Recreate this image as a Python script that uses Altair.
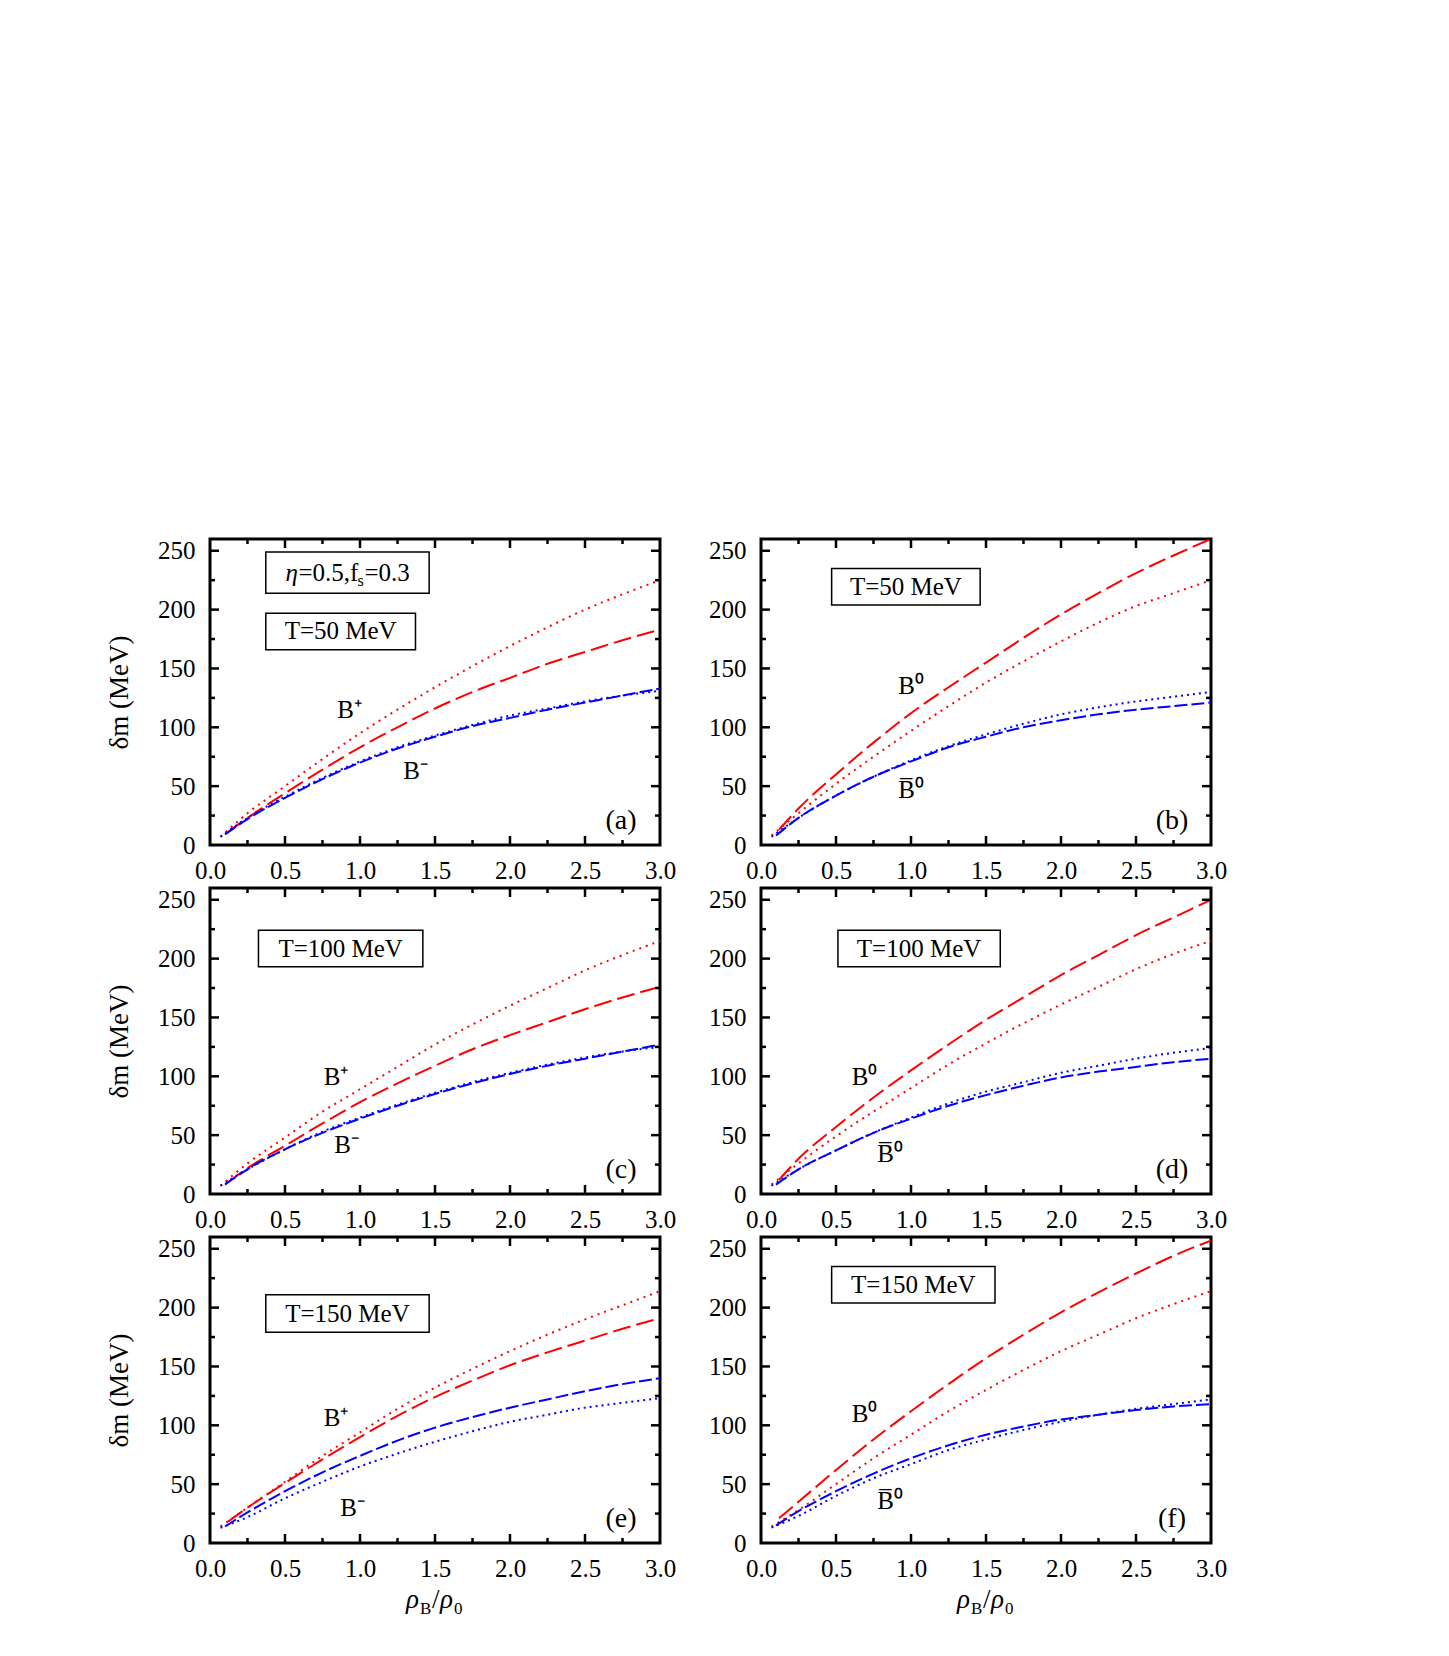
import altair as alt
import pandas as pd

# ---------------- data ----------------
X_DOT = [0.07, 0.25, 0.5, 0.75, 1.0, 1.25, 1.5, 1.75, 2.0, 2.25, 2.5, 2.75, 3.0]
X_RED_DASH = [0.12, 0.25, 0.5, 0.75, 1.0, 1.25, 1.5, 1.75, 2.0, 2.25, 2.5, 2.75, 3.0]
X_BLUE_DASH = [0.10, 0.25, 0.5, 0.75, 1.0, 1.25, 1.5, 1.75, 2.0, 2.25, 2.5, 2.75, 3.0]

# (a) T=50 MeV, B+ (red) / B- (blue)
A_RED_DOT = [7, 27, 50, 73, 95, 115, 134, 152, 169, 185, 200, 213, 225]
A_RED_DASH = [11, 23, 44, 64, 83, 100, 116, 130, 142, 154, 164, 174, 183]
A_BLUE_DASH = [9, 22, 40, 56, 70, 82, 92, 101, 108, 115, 121, 127, 133]
A_BLUE_DOT = [7, 23, 41, 57, 71, 83, 93, 102, 110, 116, 122, 127, 131]
# (b) T=50 MeV, B0 (red) / B0bar (blue)
B_RED_DOT = [8, 27, 52, 75, 97, 118, 138, 156, 173, 189, 203, 214, 225]
B_RED_DASH = [13, 31, 60, 87, 112, 134, 155, 176, 196, 214, 231, 246, 260]
B_BLUE_DASH = [8, 23, 42, 58, 71, 83, 92, 100, 106, 111, 115, 118, 121]
B_BLUE_DOT = [7, 23, 42, 58, 72, 84, 94, 103, 111, 117, 122, 126, 130]
# (c) T=100 MeV
C_RED_DOT = [7, 26, 48, 70, 89, 108, 127, 144, 160, 175, 190, 203, 215]
C_RED_DASH = [10, 22, 41, 60, 78, 94, 109, 123, 135, 146, 157, 167, 176]
C_BLUE_DASH = [8, 21, 38, 52, 64, 75, 85, 94, 102, 109, 115, 121, 127]
C_BLUE_DOT = [7, 21, 38, 53, 65, 76, 86, 95, 103, 110, 116, 121, 125]
# (d) T=100 MeV
D_RED_DOT = [8, 26, 49, 70, 90, 110, 128, 145, 161, 176, 191, 204, 215]
D_RED_DASH = [12, 30, 57, 82, 105, 127, 148, 167, 186, 203, 220, 235, 250]
D_BLUE_DASH = [8, 21, 37, 52, 64, 75, 84, 92, 99, 104, 108, 112, 115]
D_BLUE_DOT = [7, 21, 37, 52, 65, 77, 87, 95, 103, 109, 115, 120, 124]
# (e) T=150 MeV
E_RED_DOT = [14, 30, 52, 74, 94, 114, 132, 148, 163, 177, 190, 202, 214]
E_RED_DASH = [18, 30, 51, 71, 90, 108, 124, 138, 151, 162, 172, 182, 191]
E_BLUE_DASH = [14, 26, 44, 60, 74, 87, 98, 107, 115, 122, 129, 135, 140]
E_BLUE_DOT = [13, 22, 38, 52, 65, 76, 86, 95, 103, 109, 115, 119, 123]
# (f) T=150 MeV
F_RED_DOT = [14, 28, 50, 72, 92, 112, 130, 147, 163, 177, 191, 203, 214]
F_RED_DASH = [21, 35, 62, 88, 112, 135, 157, 177, 196, 213, 229, 244, 257]
F_BLUE_DASH = [15, 27, 44, 59, 72, 83, 92, 99, 105, 109, 113, 116, 118]
F_BLUE_DOT = [13, 23, 40, 55, 67, 79, 88, 96, 103, 109, 114, 118, 122]

PANEL_KEYS = ["a", "b", "c", "d", "e", "f"]
PANEL_SERIES = {
    "a": (A_RED_DOT, A_RED_DASH, A_BLUE_DASH, A_BLUE_DOT),
    "b": (B_RED_DOT, B_RED_DASH, B_BLUE_DASH, B_BLUE_DOT),
    "c": (C_RED_DOT, C_RED_DASH, C_BLUE_DASH, C_BLUE_DOT),
    "d": (D_RED_DOT, D_RED_DASH, D_BLUE_DASH, D_BLUE_DOT),
    "e": (E_RED_DOT, E_RED_DASH, E_BLUE_DASH, E_BLUE_DOT),
    "f": (F_RED_DOT, F_RED_DASH, F_BLUE_DASH, F_BLUE_DOT),
}
SERIES_NAMES = ["red_dot", "red_dash", "blue_dash", "blue_dot"]
SERIES_X = {"red_dot": X_DOT, "red_dash": X_RED_DASH, "blue_dash": X_BLUE_DASH, "blue_dot": X_DOT}

TEMPS = {"a": "T=50 MeV", "b": "T=50 MeV", "c": "T=100 MeV", "d": "T=100 MeV",
         "e": "T=150 MeV", "f": "T=150 MeV"}
# eta=0.5, f_s=0.3 written in pieces: (text, font size, style, dx, dy)
PARAM_PIECES = [("\u03b7", 25, "italic", -62, 0), ("=0.5,f", 25, "normal", -49, 0),
                ("s", 16, "normal", 10, 5), ("=0.3", 25, "normal", 17, 0)]
LABEL_UP = {"a": "B\u207a", "b": "B\u2070", "c": "B\u207a", "d": "B\u2070", "e": "B\u207a", "f": "B\u2070"}
LABEL_DN = {"a": "B\u207b", "b": "B\u0305\u2070", "c": "B\u207b", "d": "B\u0305\u2070", "e": "B\u207b", "f": "B\u0305\u2070"}

X_LABELS = [0.0, 0.5, 1.0, 1.5, 2.0, 2.5, 3.0]
Y_LABELS = [0, 50, 100, 150, 200, 250]
X_MAJOR = [0.5, 1.0, 1.5, 2.0, 2.5]
X_MINOR = [0.25, 0.75, 1.25, 1.75, 2.25, 2.75]
Y_MAJOR = [50, 100, 150, 200, 250]
Y_MINOR = [25, 75, 125, 175, 225]

# ---------------- annotation placement (data units) ----------------
TBOX = {  # x1, x2, y1, y2 of the temperature box
    "a": (0.372, 1.370, 166, 197), "b": (0.471, 1.461, 204, 235),
    "c": (0.323, 1.419, 193, 224), "d": (0.513, 1.595, 193, 224),
    "e": (0.372, 1.461, 179, 211), "f": (0.471, 1.560, 204, 235),
}
PBOX = (0.372, 1.461, 214, 249)
POS_UP = {"a": (0.93, 115), "b": (1.0, 135), "c": (0.84, 99), "d": (0.69, 99),
          "e": (0.84, 106), "f": (0.69, 110)}
POS_DN = {"a": (1.37, 63), "b": (1.0, 47), "c": (0.91, 42), "d": (0.86, 34),
          "e": (0.95, 30), "f": (0.86, 36)}
POS_TAG = (2.74, 20)

# ---------------- build ----------------
W, H = 450, 306
RED, BLUE = "#ff0000", "#0000ff"
STYLE = {"red_dot": (RED, [2, 5]), "red_dash": (RED, [18, 6]),
         "blue_dash": (BLUE, [13, 4]), "blue_dot": (BLUE, [2, 4])}
SERIF = "Liberation Serif"

rows = []
for k in PANEL_KEYS:
    for name, ys in zip(SERIES_NAMES, PANEL_SERIES[k]):
        for x, y in zip(SERIES_X[name], ys):
            rows.append({"panel": k, "series": name, "x": x, "y": y})
curves = pd.DataFrame(rows)

XS = alt.Scale(domain=[0, 3], nice=False, zero=False)
YS = alt.Scale(domain=[0, 260], nice=False, zero=False)


def xenc(field):
    return alt.X(f"{field}:Q", scale=XS,
                 axis=alt.Axis(values=X_LABELS, format=".1f", ticks=False, domain=False,
                               grid=False, labelPadding=13, labelFlush=False,
                               labelOverlap=False, title=None))


def yenc(field, left):
    ax = alt.Axis(values=Y_LABELS, format="d", ticks=False, domain=False, grid=False,
                  labelPadding=15, labelFlush=False, labelOverlap=False,
                  title="\u03b4m (MeV)" if left else None, titlePadding=24)
    return alt.Y(f"{field}:Q", scale=YS, axis=ax)


def panel(k, left, bottom):
    layers = []
    d = curves[curves.panel == k]
    for name in SERIES_NAMES:
        col, dash = STYLE[name]
        layers.append(
            alt.Chart(d[d.series == name]).mark_line(
                color=col, strokeDash=dash, strokeWidth=2, interpolate="monotone"
            ).encode(x=xenc("x"), y=yenc("y", left))
        )
    # inward ticks on all four sides
    for vals, ln in ((X_MAJOR, 9), (X_MINOR, 5)):
        df = pd.DataFrame({"x": vals})
        layers.append(alt.Chart(df).mark_rule(color="black", strokeWidth=2.5).encode(
            x=xenc("x"), y=alt.value(H), y2=alt.value(H - ln)))
        layers.append(alt.Chart(df).mark_rule(color="black", strokeWidth=2.5).encode(
            x=xenc("x"), y=alt.value(0), y2=alt.value(ln)))
    for vals, ln in ((Y_MAJOR, 9), (Y_MINOR, 5)):
        df = pd.DataFrame({"y": vals})
        layers.append(alt.Chart(df).mark_rule(color="black", strokeWidth=2.5).encode(
            y=yenc("y", left), x=alt.value(0), x2=alt.value(ln)))
        layers.append(alt.Chart(df).mark_rule(color="black", strokeWidth=2.5).encode(
            y=yenc("y", left), x=alt.value(W), x2=alt.value(W - ln)))
    # boxes
    boxes = [TBOX[k] + (TEMPS[k],)]
    if k == "a":
        boxes.append(PBOX + ("",))
    bdf = pd.DataFrame(boxes, columns=["x1", "x2", "y1", "y2", "t"])
    bdf["xc"] = (bdf.x1 + bdf.x2) / 2
    bdf["yc"] = (bdf.y1 + bdf.y2) / 2
    layers.append(alt.Chart(bdf).mark_rect(fill="white", stroke="black", strokeWidth=1.5).encode(
        x=xenc("x1"), x2="x2", y=yenc("y1", left), y2="y2"))
    layers.append(alt.Chart(bdf.iloc[:1]).mark_text(font=SERIF, fontSize=25, color="black").encode(
        x=xenc("xc"), y=yenc("yc", left), text="t"))
    if k == "a":
        pc = pd.DataFrame([{"xc": (PBOX[0] + PBOX[1]) / 2, "yc": (PBOX[2] + PBOX[3]) / 2}])
        for t, fs, st, dx, dy in PARAM_PIECES:
            layers.append(alt.Chart(pc).mark_text(
                text=t, font=SERIF, fontSize=fs, fontStyle=st, align="left",
                baseline="alphabetic", dx=dx, dy=dy + 8, color="black").encode(
                x=xenc("xc"), y=yenc("yc", left)))
    # curve labels and panel tag
    ldf = pd.DataFrame([
        {"x": POS_UP[k][0], "y": POS_UP[k][1], "t": LABEL_UP[k]},
        {"x": POS_DN[k][0], "y": POS_DN[k][1], "t": LABEL_DN[k]},
    ])
    layers.append(alt.Chart(ldf).mark_text(font=SERIF, fontSize=25, color="black").encode(
        x=xenc("x"), y=yenc("y", left), text="t"))
    tdf = pd.DataFrame([{"x": POS_TAG[0], "y": POS_TAG[1], "t": f"({k})"}])
    layers.append(alt.Chart(tdf).mark_text(font=SERIF, fontSize=28, color="black").encode(
        x=xenc("x"), y=yenc("y", left), text="t"))
    # x-axis title  rho_B / rho_0 built from pieces
    if bottom:
        pieces = [("\u03c1", 27, -29, 0, "italic"), ("B", 17, -15, 6, "normal"),
                  ("/", 27, -3, 0, "normal"), ("\u03c1", 27, 5, 0, "italic"),
                  ("0", 17, 19, 6, "normal")]
        for t, fs, dx, dy, st in pieces:
            layers.append(alt.Chart(pd.DataFrame({"t": [t]})).mark_text(
                font=SERIF, fontSize=fs, fontStyle=st, align="left", baseline="alphabetic",
                dx=dx, dy=dy, color="black").encode(
                text="t", x=alt.value(W / 2), y=alt.value(H + 65)))
    return alt.layer(*layers).properties(width=W, height=H)


charts = [panel(k, i % 2 == 0, i >= 4) for i, k in enumerate(PANEL_KEYS)]

chart = alt.ConcatChart(
    concat=charts, columns=2, spacing={"row": 43, "column": 101}, bounds="flush"
).properties(
    padding={"left": 96, "top": 525, "right": 5, "bottom": 5},
    background="white",
).configure_view(
    stroke="black", strokeWidth=3
).configure_axis(
    labelFont=SERIF, labelFontSize=25, labelColor="black",
    titleFont=SERIF, titleFontSize=27, titleFontWeight="normal", titleColor="black"
)

chart.save("out.html", embed_options={"renderer": "svg", "actions": False})
